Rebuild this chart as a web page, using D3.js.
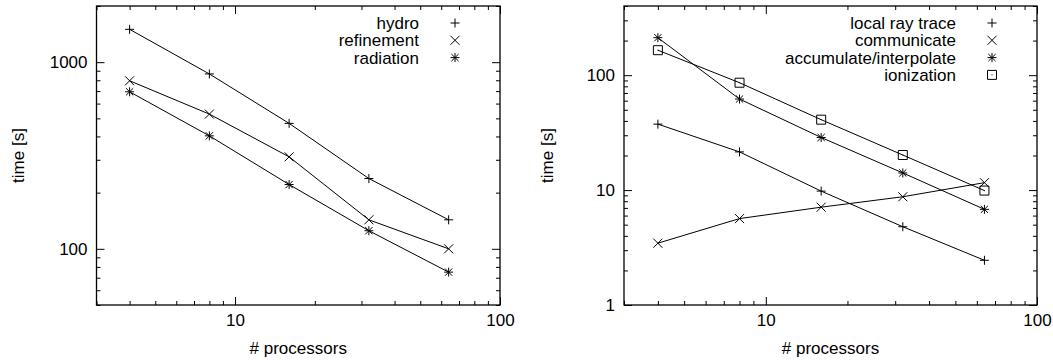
<!DOCTYPE html>
<html><head><meta charset="utf-8">
<script src="https://cdn.jsdelivr.net/npm/d3@7"></script>
<style>body{margin:0;background:#fff}text{font-family:"Liberation Sans",Arial,sans-serif;}</style>
</head><body><svg id="c" width="1053" height="360"></svg>
<script>
const procs = [4, 8, 16, 32, 64];
const hydro = [1500, 865, 470, 238, 143];
const refinement = [795, 527, 311, 143, 100];
const radiation = [694, 403, 221, 125, 75];
const localRayTrace = [37.5, 21.5, 9.8, 4.8, 2.45];
const communicate = [3.45, 5.65, 7.1, 8.75, 11.6];
const accumulate = [212, 62, 28.7, 14.1, 6.8];
const ionization = [165, 86, 41, 20.2, 9.9];

const xMajor = [10, 100];
const xMinor = [3, 4, 5, 6, 7, 8, 9, 20, 30, 40, 50, 60, 70, 80, 90];
const yMajorL = [100, 1000];
const yMinorL = [50, 60, 70, 80, 90, 200, 300, 400, 500, 600, 700, 800, 900, 2000];
const yMajorR = [1, 10, 100];
const yMinorR = [2, 3, 4, 5, 6, 7, 8, 9, 20, 30, 40, 50, 60, 70, 80, 90, 200, 300, 400];

const svg = d3.select("#c");
const FS = 17;

function marker(g, type, x, y) {
  const s = 4.5;
  const p = d3.path();
  if (type === "plus" || type === "star") {
    p.moveTo(x - s, y); p.lineTo(x + s, y);
    p.moveTo(x, y - s); p.lineTo(x, y + s);
  }
  if (type === "cross" || type === "star") {
    const c = type === "star" ? s * 0.8 : s;
    p.moveTo(x - c, y - c); p.lineTo(x + c, y + c);
    p.moveTo(x - c, y + c); p.lineTo(x + c, y - c);
  }
  if (type === "square") {
    p.rect(x - s, y - s, 2 * s, 2 * s);
  }
  g.append("path").attr("d", p.toString()).attr("fill", "none").attr("stroke", "#000").attr("stroke-width", 1);
  if (type === "square") g.append("rect").attr("x", x - 0.5).attr("y", y - 0.5).attr("width", 1).attr("height", 1).attr("fill", "#000");
}

function panel(cfg) {
  const g = svg.append("g");
  const x = d3.scaleLog().domain([3, 100]).range([cfg.x0, cfg.x1]);
  const y = d3.scaleLog().domain(cfg.ydom).range([cfg.y1, cfg.y0]);
  const fmt = d => d3.format("d")(d);

  g.append("g").attr("transform", `translate(0,${cfg.y1})`)
    .call(d3.axisBottom(x).tickValues(xMajor).tickFormat(fmt).tickSize(-8).tickPadding(9));
  g.append("g").attr("transform", `translate(0,${cfg.y0})`)
    .call(d3.axisTop(x).tickValues(xMajor).tickFormat("").tickSize(-8));
  g.append("g").attr("transform", `translate(${cfg.x0},0)`)
    .call(d3.axisLeft(y).tickValues(cfg.yMajor).tickFormat(fmt).tickSize(-8).tickPadding(9));
  g.append("g").attr("transform", `translate(${cfg.x1},0)`)
    .call(d3.axisRight(y).tickValues(cfg.yMajor).tickFormat("").tickSize(-8));
  g.append("g").attr("transform", `translate(0,${cfg.y1})`)
    .call(d3.axisBottom(x).tickValues(xMinor).tickFormat("").tickSize(-4));
  g.append("g").attr("transform", `translate(0,${cfg.y0})`)
    .call(d3.axisTop(x).tickValues(xMinor).tickFormat("").tickSize(-4));
  g.append("g").attr("transform", `translate(${cfg.x0},0)`)
    .call(d3.axisLeft(y).tickValues(cfg.yMinor).tickFormat("").tickSize(-4));
  g.append("g").attr("transform", `translate(${cfg.x1},0)`)
    .call(d3.axisRight(y).tickValues(cfg.yMinor).tickFormat("").tickSize(-4));

  g.selectAll(".domain").remove();
  g.selectAll(".tick line").attr("stroke", "#000");
  g.selectAll(".tick text").attr("font-size", FS).attr("font-family", '"Liberation Sans",Arial,sans-serif').attr("fill", "#000");

  g.append("rect").attr("x", cfg.x0).attr("y", cfg.y0).attr("width", cfg.x1 - cfg.x0).attr("height", cfg.y1 - cfg.y0)
    .attr("fill", "none").attr("stroke", "#000").attr("stroke-width", 1.3);

  g.append("text").attr("x", (cfg.x0 + cfg.x1) / 2).attr("y", 354).attr("text-anchor", "middle")
    .attr("font-size", FS).text("# processors");
  g.append("text").attr("transform", `translate(${cfg.ylabX},${(cfg.y0 + cfg.y1) / 2}) rotate(-90)`)
    .attr("text-anchor", "middle").attr("dy", "0.35em").attr("font-size", FS).text("time [s]");

  const line = d3.line().x(d => x(d[0])).y(d => y(d[1]));
  cfg.series.forEach((s, i) => {
    const pts = procs.map((p, j) => [p, s.values[j]]);
    g.append("path").attr("d", line(pts)).attr("fill", "none").attr("stroke", "#000").attr("stroke-width", 1);
    pts.forEach(pt => marker(g, s.mark, x(pt[0]), y(pt[1])));
    const ly = 23 + i * 17.3;
    g.append("text").attr("x", cfg.x1 - 81).attr("y", ly).attr("dy", "0.35em").attr("text-anchor", "end")
      .attr("font-size", FS).text(s.name);
    marker(g, s.mark, cfg.x1 - 45, ly);
  });
}

panel({
  x0: 96.5, x1: 500, y0: 6, y1: 305, ydom: [50, 2000], yMajor: yMajorL, yMinor: yMinorL, ylabX: 18,
  series: [
    { name: "hydro", values: hydro, mark: "plus" },
    { name: "refinement", values: refinement, mark: "cross" },
    { name: "radiation", values: radiation, mark: "star" }
  ]
});
panel({
  x0: 624, x1: 1037, y0: 6, y1: 305, ydom: [1, 400], yMajor: yMajorR, yMinor: yMinorR, ylabX: 547,
  series: [
    { name: "local ray trace", values: localRayTrace, mark: "plus" },
    { name: "communicate", values: communicate, mark: "cross" },
    { name: "accumulate/interpolate", values: accumulate, mark: "star" },
    { name: "ionization", values: ionization, mark: "square" }
  ]
});
</script></body></html>
